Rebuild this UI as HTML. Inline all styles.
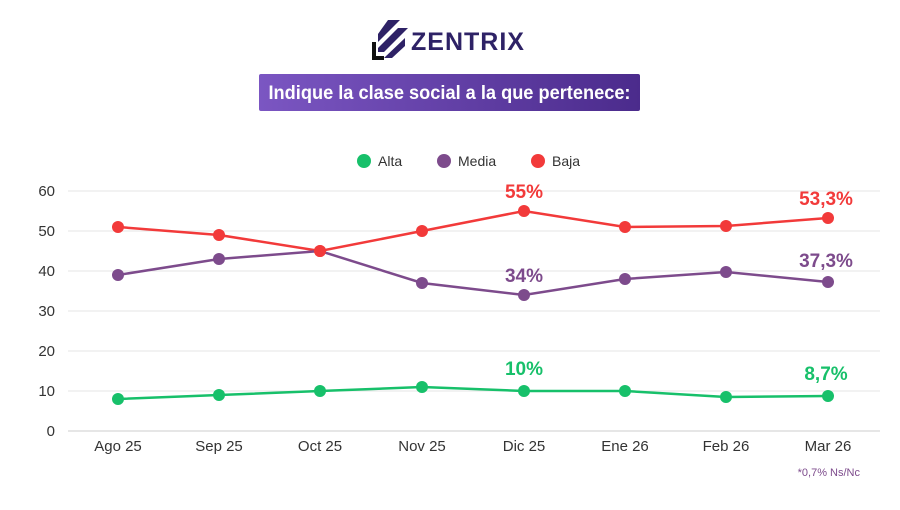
<!DOCTYPE html><html><head><meta charset="utf-8"><style>body{margin:0;background:#fff;width:900px;height:505px;overflow:hidden;font-family:"Liberation Sans",sans-serif}</style></head><body>
<svg width="900" height="505" viewBox="0 0 900 505" xmlns="http://www.w3.org/2000/svg">
<defs><linearGradient id="g" x1="0" x2="1"><stop offset="0" stop-color="#7b56c2"/><stop offset="1" stop-color="#4b2b8c"/></linearGradient></defs>
<g fill="#2e2266"><polygon points="388,20 400,20 378,42 378,34"/><polygon points="398,28 408,28 384,52 378,52 378,48"/><polygon points="405,38 405,46 392,58 384,58"/></g>
<path d="M374,42 L374,58 L384,58" stroke="#111" stroke-width="4" fill="none"/>
<text x="411" y="50" font-size="25" font-weight="bold" fill="#2e2266" letter-spacing="1">ZENTRIX</text>
<rect x="259" y="74" width="381" height="37" rx="2" fill="url(#g)"/>
<text x="449.5" y="99" font-size="19" font-weight="bold" fill="#fff" text-anchor="middle" textLength="362" lengthAdjust="spacingAndGlyphs">Indique la clase social a la que pertenece:</text>
<g font-size="14" fill="#333"><circle cx="364" cy="161" r="7" fill="#17c06a"/><text x="378" y="166">Alta</text>
<circle cx="444" cy="161" r="7" fill="#7d4b8c"/><text x="458" y="166">Media</text>
<circle cx="538" cy="161" r="7" fill="#f23a3a"/><text x="552" y="166">Baja</text></g>
<g stroke="#e6e6e6" stroke-width="1"><line x1="68" x2="880" y1="191" y2="191"/><line x1="68" x2="880" y1="231" y2="231"/><line x1="68" x2="880" y1="271" y2="271"/><line x1="68" x2="880" y1="311" y2="311"/><line x1="68" x2="880" y1="351" y2="351"/><line x1="68" x2="880" y1="391" y2="391"/></g>
<line x1="68" x2="880" y1="431" y2="431" stroke="#ccc"/>
<g font-size="15" fill="#333" text-anchor="end"><text x="55" y="196">60</text><text x="55" y="236">50</text><text x="55" y="276">40</text><text x="55" y="316">30</text><text x="55" y="356">20</text><text x="55" y="396">10</text><text x="55" y="436">0</text></g>
<g font-size="15" fill="#333" text-anchor="middle"><text x="118" y="451">Ago 25</text><text x="219" y="451">Sep 25</text><text x="320" y="451">Oct 25</text><text x="422" y="451">Nov 25</text><text x="524" y="451">Dic 25</text><text x="625" y="451">Ene 26</text><text x="726" y="451">Feb 26</text><text x="828" y="451">Mar 26</text></g>
<text x="860" y="476" font-size="11" fill="#7d4b8c" text-anchor="end">*0,7% Ns/Nc</text>
<g stroke-width="2.5" fill="none">
<polyline stroke="#f23a3a" points="118,227 219,235 320,251 422,231 524,211 625,227 726,226 828,218"/>
<polyline stroke="#7d4b8c" points="118,275 219,259 320,251 422,283 524,295 625,279 726,272 828,282"/>
<polyline stroke="#17c06a" points="118,399 219,395 320,391 422,387 524,391 625,391 726,397 828,396"/>
</g>
<g fill="#f23a3a"><circle cx="118" cy="227" r="6"/><circle cx="219" cy="235" r="6"/><circle cx="320" cy="251" r="6"/><circle cx="422" cy="231" r="6"/><circle cx="524" cy="211" r="6"/><circle cx="625" cy="227" r="6"/><circle cx="726" cy="226" r="6"/><circle cx="828" cy="218" r="6"/></g>
<g fill="#7d4b8c"><circle cx="118" cy="275" r="6"/><circle cx="219" cy="259" r="6"/><circle cx="422" cy="283" r="6"/><circle cx="524" cy="295" r="6"/><circle cx="625" cy="279" r="6"/><circle cx="726" cy="272" r="6"/><circle cx="828" cy="282" r="6"/></g>
<circle cx="320" cy="251" r="6" fill="#f23a3a"/>
<g fill="#17c06a"><circle cx="118" cy="399" r="6"/><circle cx="219" cy="395" r="6"/><circle cx="320" cy="391" r="6"/><circle cx="422" cy="387" r="6"/><circle cx="524" cy="391" r="6"/><circle cx="625" cy="391" r="6"/><circle cx="726" cy="397" r="6"/><circle cx="828" cy="396" r="6"/></g>
<g font-size="19" font-weight="bold" text-anchor="middle"><text x="524" y="198" fill="#f23a3a">55%</text><text x="826" y="205" fill="#f23a3a">53,3%</text>
<text x="524" y="282" fill="#7d4b8c">34%</text><text x="826" y="267" fill="#7d4b8c">37,3%</text>
<text x="524" y="375" fill="#17c06a">10%</text><text x="826" y="380" fill="#17c06a">8,7%</text></g>
</svg></body></html>
